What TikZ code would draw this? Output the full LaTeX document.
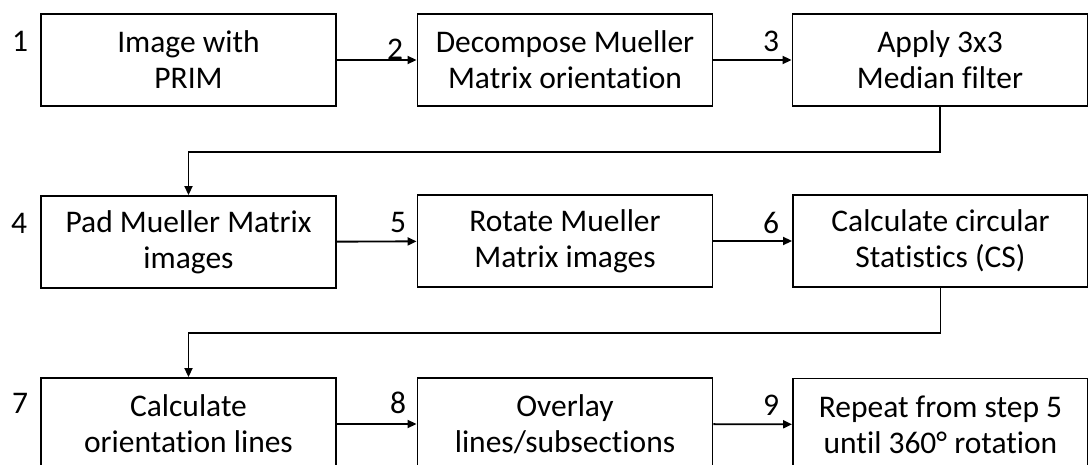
\documentclass[tikz,border=0pt]{standalone}
\usepackage{fontspec}
\setmainfont{Carlito}[Ligatures={NoCommon}]
\usetikzlibrary{arrows.meta}
\begin{document}
\begin{tikzpicture}[x=1pt,y=-1pt,
  box/.style={draw,line width=1.9pt,minimum width=295pt,minimum height=92pt,align=center,inner sep=0pt,
    font=\fontsize{31.5}{36}\selectfont},
  num/.style={inner sep=0pt,font=\fontsize{31.5}{36}\selectfont},
  conn/.style={line width=1.9pt,-{Triangle[length=9pt,width=8pt]}}]
\useasboundingbox (0,0) rectangle (1088,465);
\clip (0,0) rectangle (1088,465);
\node[box] (b1) at (188.5,60) {Image with\\PRIM};
\node[box] (b2) at (565,60) {Decompose Mueller\\Matrix orientation};
\node[box] (b3) at (940,60) {Apply 3x3\\Median filter};
\node[box] (b4) at (188.5,242) {Pad Mueller Matrix\\images};
\node[box] (b5) at (565,241) {Rotate Mueller\\Matrix images};
\node[box] (b6) at (940.5,241) {Calculate circular\\Statistics (CS)};
\node[box] (b7) at (188.5,424) {Calculate\\orientation lines};
\node[box] (b8) at (565,424) {Overlay\\lines/subsections};
\node[box] (b9) at (940.5,424.5) {Repeat from step 5\\until 360° rotation};
\node[num] (n1) at (20,41) {1};
\node[num] (n2) at (395,49) {2};
\node[num] (n3) at (771,41) {3};
\node[num] (n4) at (19,223) {4};
\node[num] (n5) at (398,223) {5};
\node[num] (n6) at (771,223) {6};
\node[num] (n7) at (20,403) {7};
\node[num] (n8) at (398,403) {8};
\node[num] (n9) at (771,405) {9};
\draw[conn] (b1) -- (b2);
\draw[conn] (b2) -- (b3);
\draw[conn] (b4) -- (b5);
\draw[conn] (b5) -- (b6);
\draw[conn] (b7) -- (b8);
\draw[conn] (b8) -- (b9);
\draw[conn] (b3.south) -- ++(0,45) -| (b4.north);
\draw[conn] (b6.south) -- ++(0,45) -| (b7.north);
\end{tikzpicture}
\end{document}
